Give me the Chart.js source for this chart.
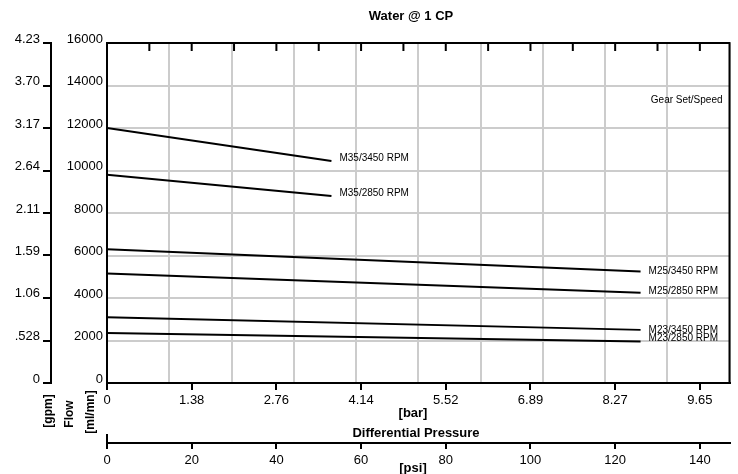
<!DOCTYPE html>
<html>
<head>
<meta charset="utf-8">
<script src="https://cdn.jsdelivr.net/npm/chart.js@4.4.1/dist/chart.umd.min.js"></script>
<style>
  html, body { margin: 0; padding: 0; background: #fff; }
</style>
</head>
<body>
<canvas id="flowChart" width="738" height="474"></canvas>
<script>
// Gear set / speed curves, x in psi, y in ml/mn
const seriesLabels = ['M35/3450 RPM', 'M35/2850 RPM', 'M25/3450 RPM', 'M25/2850 RPM', 'M23/3450 RPM', 'M23/2850 RPM'];
const seriesPsi = [[0, 53], [0, 53], [0, 126], [0, 126], [0, 126], [0, 126]];
const seriesFlow = [
  [12000, 10450],
  [9800, 8800],
  [6300, 5250],
  [5150, 4250],
  [3100, 2500],
  [2350, 1950]
];

// axis ticks
const flowTicks = [0, 2000, 4000, 6000, 8000, 10000, 12000, 14000, 16000];
const gpmLabels = ['0', '.528', '1.06', '1.59', '2.11', '2.64', '3.17', '3.70', '4.23'];
const psiTicks = [0, 20, 40, 60, 80, 100, 120, 140];
const barLabels = ['0', '1.38', '2.76', '4.14', '5.52', '6.89', '8.27', '9.65'];
const psiMinorTicks = [10, 20, 30, 40, 50, 60, 70, 80, 90, 100, 110, 120, 130, 140];
const PSI_MAX = 147;
const FLOW_MAX = 16000;
const GPM_MAX = 4.23;

// small vertical nudges for the curve labels (px)
const labelNudge = [-3, -3, 0, -1, 0, -3];

const FONT = '"Liberation Sans", Arial, Helvetica, sans-serif';
const GRID = '#cccccc';
const tickFont = { family: FONT, size: 13 };

const overlay = {
  id: 'overlay',
  afterDraw(chart) {
    const { ctx, chartArea: a, scales } = chart;
    ctx.save();

    // plot frame
    ctx.strokeStyle = '#000';
    ctx.lineWidth = 2;
    ctx.strokeRect(a.left, a.top, a.right - a.left, a.bottom - a.top);

    // inward psi ticks along the top edge
    ctx.beginPath();
    psiMinorTicks.forEach(v => {
      const px = scales.psi.getPixelForValue(v);
      ctx.moveTo(px, a.top);
      ctx.lineTo(px, a.top + 8);
    });
    // end cap of the psi axis
    const p0 = scales.psi.getPixelForValue(0);
    ctx.moveTo(p0, scales.psi.top - 9);
    ctx.lineTo(p0, scales.psi.top);
    ctx.stroke();

    // curve labels
    ctx.fillStyle = '#000';
    ctx.font = '10px ' + FONT;
    ctx.textAlign = 'left';
    ctx.textBaseline = 'middle';
    seriesLabels.forEach((name, i) => {
      const pts = chart.getDatasetMeta(i).data;
      const last = pts[pts.length - 1];
      ctx.fillText(name, last.x + 8, last.y + labelNudge[i]);
    });
    ctx.textAlign = 'right';
    ctx.fillText('Gear Set/Speed', a.right - 7, scales.y.getPixelForValue(14000) + 15);

    // titles
    ctx.textAlign = 'center';
    ctx.font = 'bold 13px ' + FONT;
    ctx.fillText('Water @ 1 CP', 411, 16);
    ctx.fillText('[bar]', 413, 413);
    ctx.fillText('Differential Pressure', 416, 433);
    ctx.fillText('[psi]', 413, 468);

    // rotated flow unit labels
    ctx.font = 'bold 12px ' + FONT;
    [['[gpm]', 49, 411], ['Flow', 70, 414], ['[ml/mn]', 91, 412]].forEach(([t, x, y]) => {
      ctx.save();
      ctx.translate(x, y);
      ctx.rotate(-Math.PI / 2);
      ctx.fillText(t, 0, 0);
      ctx.restore();
    });

    ctx.restore();
  }
};

const ctx = document.getElementById('flowChart').getContext('2d');
new Chart(ctx, {
  type: 'line',
  data: {
    datasets: seriesLabels.map((name, i) => ({
      label: name,
      data: seriesPsi[i].map((x, j) => ({ x, y: seriesFlow[i][j] })),
      borderColor: '#000',
      borderWidth: 2,
      pointRadius: 0,
      fill: false,
      tension: 0,
      xAxisID: 'x',
      yAxisID: 'y'
    }))
  },
  options: {
    responsive: false,
    animation: false,
    layout: { padding: { left: 0, right: 8.5, top: 0, bottom: 0 } },
    plugins: {
      legend: { display: false },
      tooltip: { enabled: false }
    },
    scales: {
      x: {
        type: 'linear',
        position: 'bottom',
        weight: 0,
        min: 0,
        max: PSI_MAX,
        afterBuildTicks: s => { s.ticks = psiTicks.map(v => ({ value: v })); },
        afterFit: s => { s.height = 60; },
        ticks: {
          color: '#000',
          font: tickFont,
          padding: 3,
          maxRotation: 0,
          autoSkip: false,
          callback: (v, i) => barLabels[i]
        },
        grid: { drawOnChartArea: false, color: '#000', lineWidth: 2, tickLength: 7 },
        border: { color: '#000', width: 2 }
      },
      psi: {
        type: 'linear',
        position: 'bottom',
        weight: 1,
        min: 0,
        max: PSI_MAX,
        afterBuildTicks: s => { s.ticks = psiTicks.map(v => ({ value: v })); },
        afterFit: s => { s.height = 31; },
        ticks: {
          color: '#000',
          font: tickFont,
          padding: 4,
          maxRotation: 0,
          autoSkip: false,
          callback: v => String(v)
        },
        grid: { drawOnChartArea: false, color: '#000', lineWidth: 2, tickLength: 6 },
        border: { color: '#000', width: 2 }
      },
      xg: {
        type: 'linear',
        position: 'top',
        min: 0,
        max: 10,
        afterFit: s => { s.height = 43; },
        ticks: { display: false, stepSize: 1 },
        grid: { color: GRID, lineWidth: 2, drawTicks: false },
        border: { display: false }
      },
      y: {
        type: 'linear',
        position: 'left',
        weight: 0,
        min: 0,
        max: FLOW_MAX,
        afterBuildTicks: s => { s.ticks = flowTicks.map(v => ({ value: v })); },
        afterFit: s => { s.width = 56; },
        ticks: { color: '#000', font: tickFont, padding: 4, labelOffset: -4, callback: v => String(v) },
        grid: { color: GRID, lineWidth: 2, drawTicks: false },
        border: { color: '#000', width: 2 }
      },
      yg: {
        type: 'linear',
        position: 'left',
        weight: 1,
        min: 0,
        max: GPM_MAX,
        afterBuildTicks: s => { s.ticks = gpmLabels.map(l => ({ value: parseFloat(l) })); },
        afterFit: s => { s.width = 51; },
        ticks: { color: '#000', font: tickFont, padding: 3, labelOffset: -4, callback: (v, i) => gpmLabels[i] },
        grid: { drawOnChartArea: false, color: '#000', lineWidth: 2, tickLength: 8 },
        border: { color: '#000', width: 2 }
      }
    }
  },
  plugins: [overlay]
});
</script>
</body>
</html>
